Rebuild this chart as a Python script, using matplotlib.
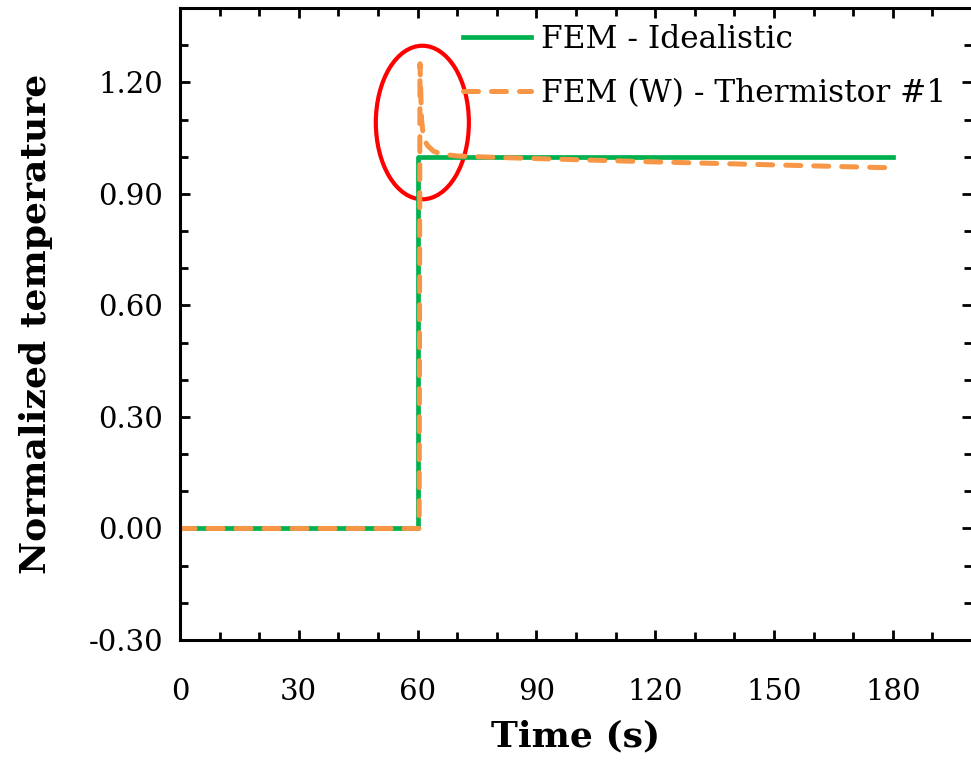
import numpy as np
import matplotlib
matplotlib.use("Agg")
import matplotlib.pyplot as plt
from matplotlib.patches import Ellipse
from matplotlib.ticker import MultipleLocator, FormatStrFormatter

# Idealistic step response
ideal_time = [0, 60, 60, 180]
ideal_temp = [0.0, 0.0, 1.0, 1.0]

# Thermistor #1 response (overshoot right after the step, then slow drift)
therm_time = [0, 60.4, 60.6, 61.0, 61.5, 62.5, 64, 66, 70, 80, 90, 120, 150, 180]
therm_temp = [0.0, 0.0, 1.25, 1.10, 1.05, 1.03, 1.015, 1.007, 1.002, 0.998, 0.995, 0.986, 0.978, 0.970]

# highlight ellipse (data coords)
ellipse_center = (61.2, 1.092)
ellipse_size = (23.5, 0.413)

plt.rcParams['font.family'] = ['DejaVu Serif']
plt.rcParams['axes.unicode_minus'] = False

fig = plt.figure(figsize=(9.71, 7.62), dpi=100)
ax = fig.add_axes([180 / 971, 122 / 762, 792 / 971, 632 / 762])

ax.plot(ideal_time, ideal_temp, color='#00B050', lw=3.4, label='FEM - Idealistic')
ax.plot(therm_time, therm_temp, color='#F79646', lw=3.6, ls=(0, (3.0, 2.6)),
        dash_capstyle='round', label='FEM (W) - Thermistor #1')

ax.add_patch(Ellipse(ellipse_center, ellipse_size[0], ellipse_size[1],
                     fill=False, edgecolor='#FF0000', lw=3.0))

ax.set_xlim(0, 200)
ax.set_ylim(-0.3, 1.4)
ax.set_xticks([0, 30, 60, 90, 120, 150, 180])
ax.set_yticks([-0.3, 0.0, 0.3, 0.6, 0.9, 1.2])
ax.xaxis.set_minor_locator(MultipleLocator(10))
ax.yaxis.set_minor_locator(MultipleLocator(0.1))
ax.yaxis.set_major_formatter(FormatStrFormatter('%.2f'))

ax.tick_params(which='both', direction='in', top=True, right=True, width=2.0)
ax.tick_params(which='major', length=7.5)
ax.tick_params(which='minor', length=5.5)
ax.tick_params(axis='x', which='major', labelsize=21, pad=27)
ax.tick_params(axis='y', which='major', labelsize=21, pad=12)
for s in ax.spines.values():
    s.set_linewidth(2.2)

ax.set_xlabel('Time (s)', fontsize=26, fontweight='bold', labelpad=10)
ax.set_ylabel('Normalized temperature', fontsize=26, fontweight='bold', labelpad=26)

ax.legend(loc='upper left', bbox_to_anchor=(0.357, 0.975), frameon=False, fontsize=22.5,
          borderpad=0, borderaxespad=0, handlelength=2.2, handletextpad=0.3,
          labelspacing=0.75)

plt.savefig('out.png', dpi=100)
